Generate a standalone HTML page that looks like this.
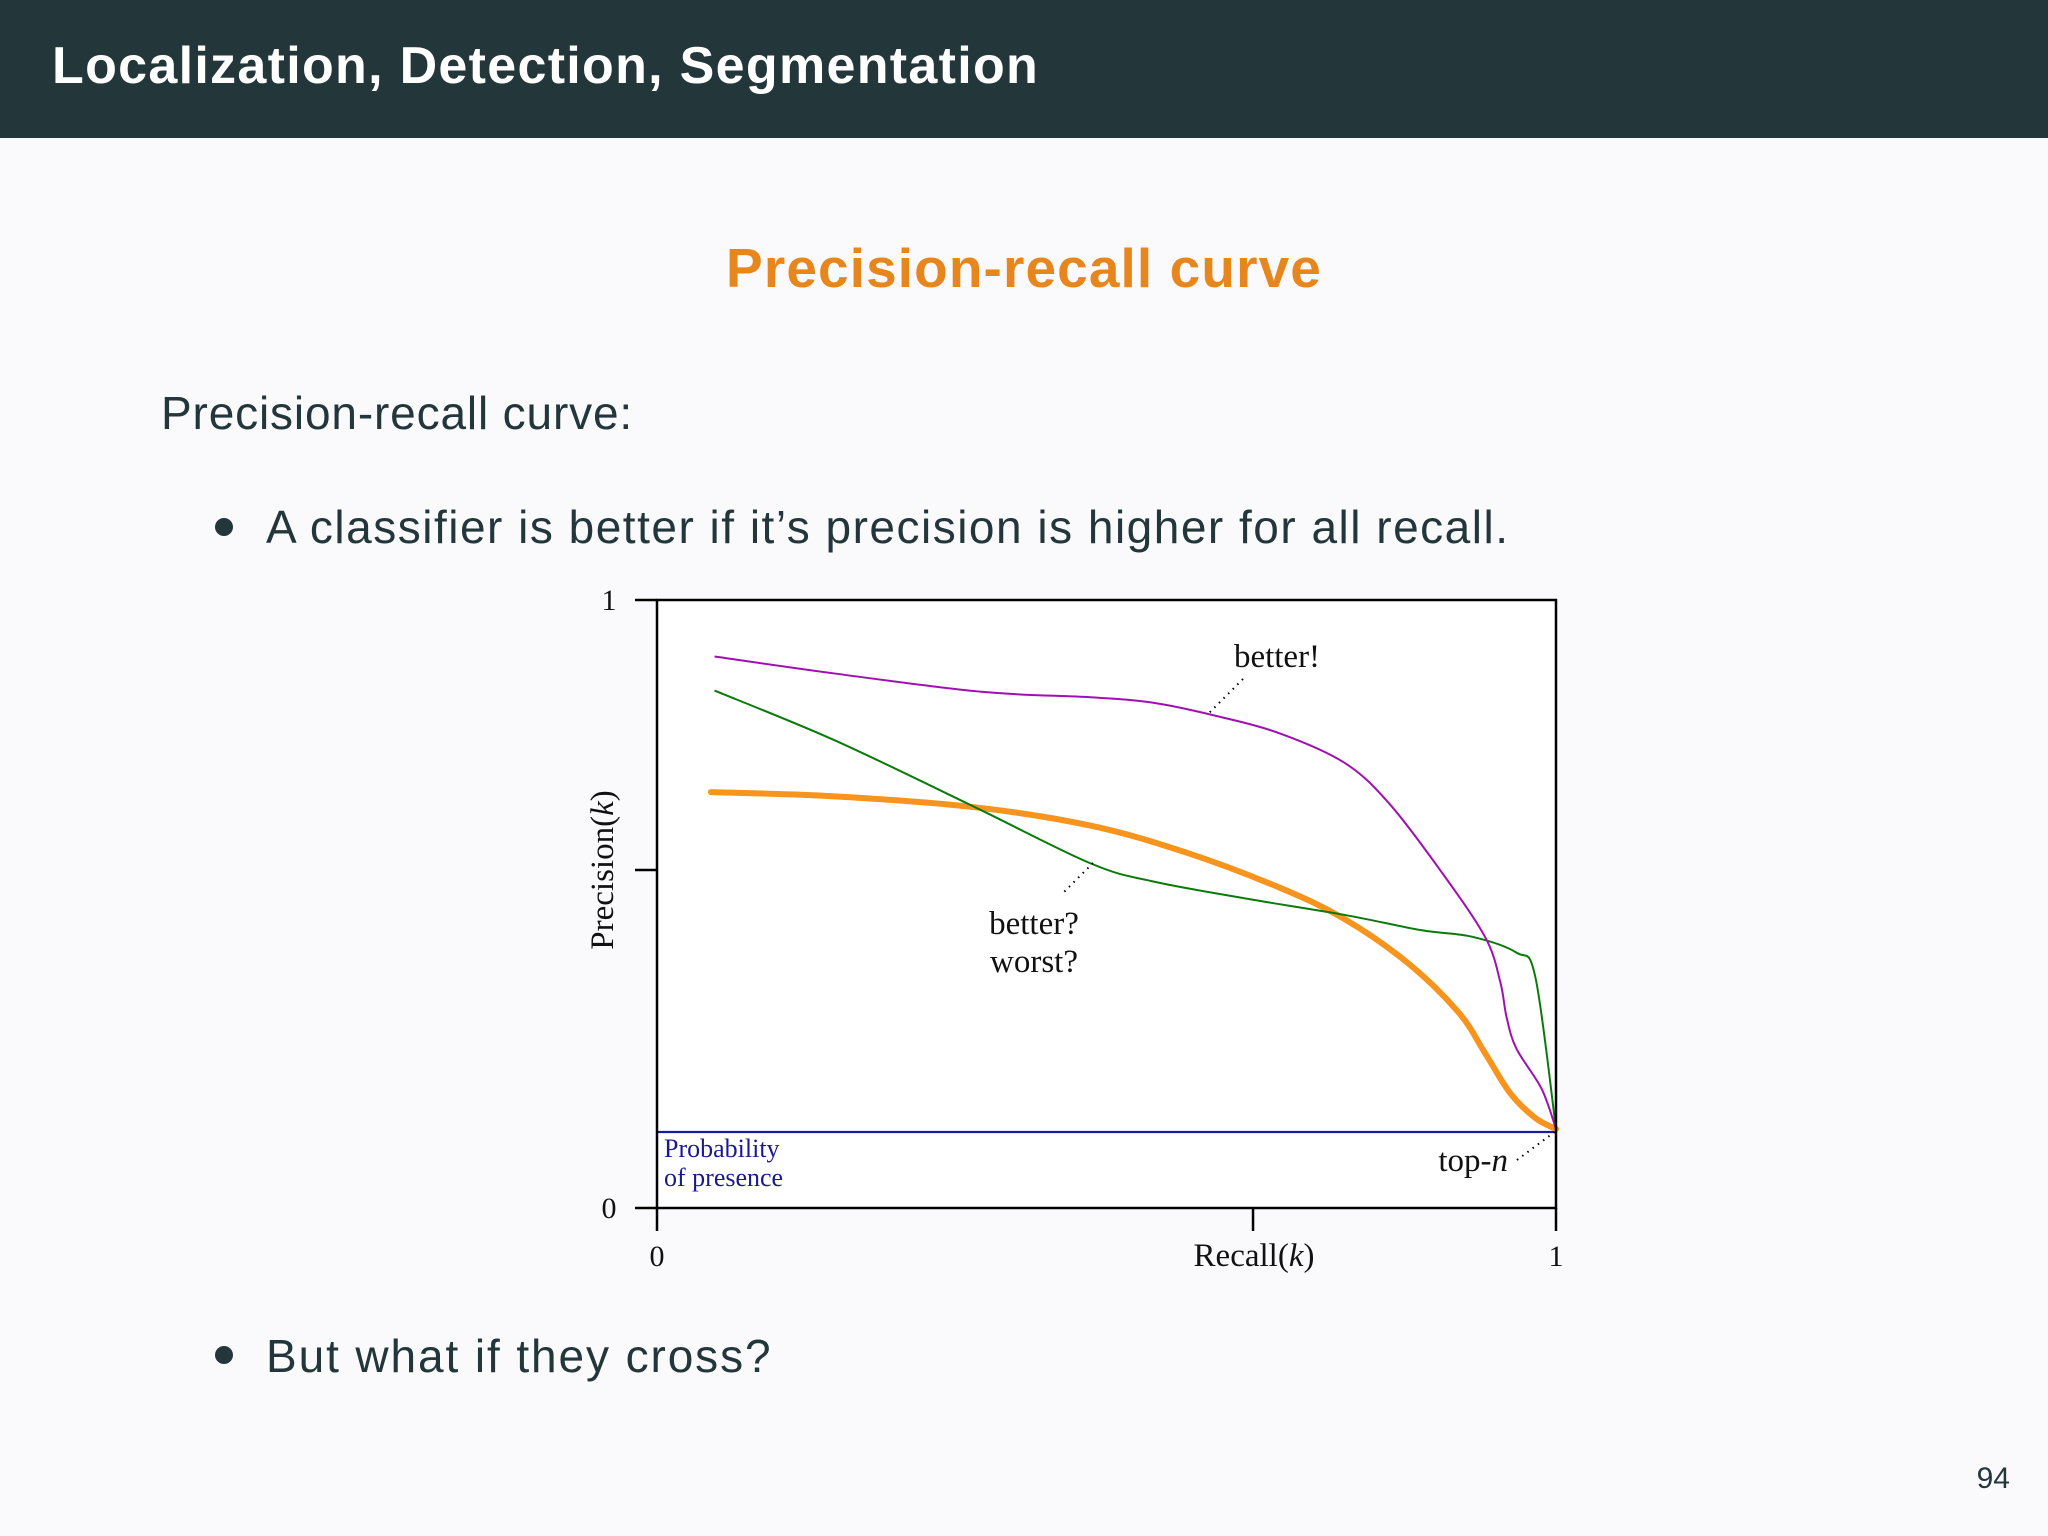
<!DOCTYPE html>
<html><head><meta charset="utf-8">
<style>
html,body{margin:0;padding:0}
body{width:2048px;height:1536px;background:#fafafc;position:relative;overflow:hidden;font-family:"Liberation Sans",sans-serif;color:#23373b}
.hdr{position:absolute;left:0;top:0;width:2048px;height:138px;background:#23373b}
.hdr span{position:absolute;left:52px;top:36px;font-size:52px;font-weight:bold;color:#fff;letter-spacing:1.3px;white-space:nowrap}
.t{position:absolute;white-space:nowrap}
.dot{position:absolute;width:18px;height:18px;border-radius:50%;background:#23373b}
</style></head><body>
<div class="hdr"><span>Localization, Detection, Segmentation</span></div>
<div class="t" style="left:0;width:2048px;text-align:center;top:236px;font-size:55px;font-weight:bold;color:#e8861e;letter-spacing:1.1px">Precision-recall curve</div>
<div class="t" style="left:161px;top:386px;font-size:46px;letter-spacing:0.85px">Precision-recall curve:</div>
<div class="dot" style="left:215px;top:518px"></div>
<div class="t" style="left:266px;top:500px;font-size:46px;letter-spacing:1.5px">A classifier is better if it’s precision is higher for all recall.</div>
<div class="dot" style="left:215px;top:1346px"></div>
<div class="t" style="left:266px;top:1329px;font-size:46px;letter-spacing:1.9px">But what if they cross?</div>
<div class="t" style="right:38px;top:1462px;font-size:30px">94</div>

<svg id="chart" width="2048" height="1536" style="position:absolute;left:0;top:0" font-family="Liberation Serif, serif">
</svg>
<script>
const purpleX=[0.064,0.198,0.361,0.482,0.552,0.623,0.694,0.765,0.814,0.871,0.921,0.938,0.945,0.956,0.984,1.0];
const purpleY=[0.907,0.879,0.849,0.840,0.831,0.809,0.780,0.732,0.666,0.556,0.446,0.372,0.314,0.262,0.196,0.130];
const greenX=[0.064,0.198,0.354,0.482,0.552,0.659,0.765,0.850,0.907,0.956,0.977,1.0];
const greenY=[0.851,0.769,0.659,0.567,0.537,0.508,0.482,0.457,0.446,0.420,0.380,0.130];
const orangeX=[0.060,0.198,0.354,0.482,0.588,0.694,0.765,0.836,0.892,0.921,0.949,0.977,1.0];
const orangeY=[0.684,0.677,0.659,0.629,0.585,0.526,0.475,0.402,0.321,0.255,0.189,0.148,0.130];
const baseline=[0.125];
const xTickVals=[0,0.663,1];
const xTickLabels=["0","","1"];
const yTickVals=[0,0.556,1];
const yTickLabels=["0","","1"];

const L=657,R=1556,T=600,B=1208;
const sx=v=>L+v*(R-L);
const sy=v=>B-v*(B-T);
const svg=document.getElementById('chart');
const NS='http://www.w3.org/2000/svg';
function mk(tag,attrs){const e=document.createElementNS(NS,tag);for(const k in attrs)e.setAttribute(k,attrs[k]);svg.appendChild(e);return e;}

const bg=mk('rect',{x:L,y:T,width:R-L,height:B-T,fill:'#ffffff'});



function smooth(xs,ys){
  const p=xs.map((x,i)=>[sx(x),sy(ys[i])]);
  let d='M'+p[0][0]+','+p[0][1];
  for(let i=0;i<p.length-1;i++){
    const p0=p[i-1]||p[i],p1=p[i],p2=p[i+1],p3=p[i+2]||p[i+1];
    const c1=[p1[0]+(p2[0]-p0[0])/6,p1[1]+(p2[1]-p0[1])/6];
    const c2=[p2[0]-(p3[0]-p1[0])/6,p2[1]-(p3[1]-p1[1])/6];
    d+=' C'+c1+' '+c2+' '+p2;
  }
  return d;
}
const bl=mk('line',{x1:sx(0),x2:sx(1),y1:sy(baseline[0]),y2:sy(baseline[0]),stroke:'#1a1aa0','stroke-width':2.2});


const og=mk('path',{d:smooth(orangeX,orangeY),fill:'none',stroke:'#f7941d','stroke-width':6,'stroke-linecap':'round'});


const gr=mk('path',{d:smooth(greenX,greenY),fill:'none',stroke:'#0a7a0a','stroke-width':2});


const pu=mk('path',{d:smooth(purpleX,purpleY),fill:'none',stroke:'#a010b0','stroke-width':2});



const fr=mk('rect',{x:L,y:T,width:R-L,height:B-T,fill:'none',stroke:'#000','stroke-width':2.5});



xTickVals.forEach((v,i)=>{
  const t=mk('line',{x1:sx(v),x2:sx(v),y1:B,y2:B+23,stroke:'#000','stroke-width':2.5});
  
  
  if(xTickLabels[i]){const tx=mk('text',{x:sx(v),y:1266,'text-anchor':'middle','font-size':30,fill:'#111'});tx.textContent=xTickLabels[i];
  
  }
});
yTickVals.forEach((v,i)=>{
  const t=mk('line',{x1:L-22,x2:L,y1:sy(v),y2:sy(v),stroke:'#000','stroke-width':2.5});
  
  
  if(yTickLabels[i]){const tx=mk('text',{x:609,y:sy(v)+10,'text-anchor':'middle','font-size':30,fill:'#111'});tx.textContent=yTickLabels[i];
  
  }
});
function txt(x,y,s,name,attrs){const e=mk('text',Object.assign({x:x,y:y,'font-size':33,fill:'#111'},attrs||{}));e.innerHTML=s;return e;}
txt(1254,1266,'Recall(<tspan font-style="italic">k</tspan>)','x-axis-title',{'text-anchor':'middle'});
txt(0,0,'Precision(<tspan font-style="italic">k</tspan>)','y-axis-title',{'text-anchor':'middle',transform:'translate(613,870) rotate(-90)'});
txt(1277,667,'better!','annotation-better',{'text-anchor':'middle'});
txt(1034,934,'better?','annotation-better-q',{'text-anchor':'middle'});
txt(1034,972,'worst?','annotation-worst-q',{'text-anchor':'middle'});
txt(1508,1171,'top-<tspan font-style="italic">n</tspan>','annotation-top-n',{'text-anchor':'end'});
txt(664,1157,'Probability','baseline-label-1',{fill:'#1a1a8c','font-size':26});
txt(664,1186,'of presence','baseline-label-2',{fill:'#1a1a8c','font-size':26});
[[1243,679,1208,714],[1093,863,1061,895],[1517,1160,1556,1131]].forEach(a=>{
  const l=mk('line',{x1:a[0],y1:a[1],x2:a[2],y2:a[3],stroke:'#000','stroke-width':2,'stroke-dasharray':'1.5 5'});
  
  
});
</script>
</body></html>
